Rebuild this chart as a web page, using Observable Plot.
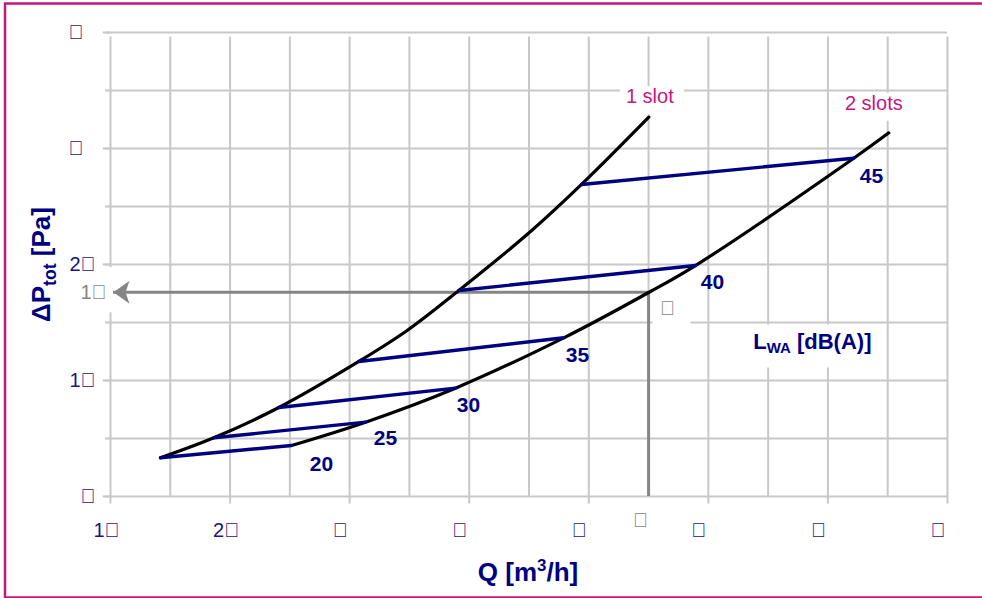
<!DOCTYPE html>
<html>
<head>
<meta charset="utf-8">
<script src="https://cdn.jsdelivr.net/npm/d3@7"></script>
<script src="https://cdn.jsdelivr.net/npm/@observablehq/plot@0.6"></script>
<style>
  html, body { margin: 0; padding: 0; background: #fff; }
  #chart svg { display: block; }
</style>
</head>
<body>
<div id="chart"></div>
<script>
// ---- axis ticks / grid ----
const qGrid = [100, 150, 200, 250, 300, 350, 400, 450, 500, 550, 600, 650, 700, 750, 800];
const pGrid = [0, 5, 10, 15, 20, 25, 30, 35, 40];
const qTicks = [100, 200, 300, 400, 500, 600, 700, 800];
const qTickLabels = ["1\uE000", "2\uE000", "\uE000", "\uE000", "\uE000", "\uE000", "\uE000", "\uE000"];
const pTicks = [0, 10, 20, 30, 40];
const pTickLabels = ["\uE000", "1\uE000", "2\uE000", "\uE000", "\uE000"];

// ---- curves ----
const seriesNames = ["1 slot", "2 slots"];
const oneSlotQ = [141.8, 186.4, 240.8, 307.7, 348.1, 391.3, 451.3, 493.9, 550.2];
const oneSlotP = [3.34, 5.06, 7.67, 11.64, 14.31, 17.76, 22.84, 26.90, 32.70];
const twoSlotQ = [251.4, 313.3, 388.5, 479.1, 550.8, 589.2, 721.6, 750.9];
const twoSlotP = [4.40, 6.41, 9.34, 13.68, 17.63, 19.91, 29.16, 31.35];

// ---- sound power level lines L_WA ----
const lwaLevels = [20, 25, 30, 35, 40, 45];
const lwaQ1 = [141.8, 186.4, 240.8, 307.7, 391.3, 493.9];
const lwaP1 = [3.34, 5.06, 7.67, 11.64, 17.76, 26.90];
const lwaQ2 = [251.4, 313.3, 388.5, 479.1, 589.2, 721.6];
const lwaP2 = [4.40, 6.41, 9.34, 13.68, 19.91, 29.16];
const lwaLabelQ = [276.5, 330.0, 399.4, 490.6, 603.5, 736.4];
const lwaLabelP = [2.76, 5.00, 7.84, 12.16, 18.45, 27.59];

// ---- read-off example (operating point) ----
const opQ = 550;
const opP = 17.6;
const opQLabel = "\uE000";
const opPLabel = "1\uE000";
const opLabel = "\uE000";

// ---- titles ----
const xTitle = ["Q [m", "3", "/h]"];
const yTitle = ["\u0394P", "tot", " [Pa]"];
const lwaTitle = ["L", "WA", " [dB(A)]"];
const lwaTitleQ = 687.0;
const lwaTitleP = 13.28;

// ---- build tables ----
const curves = [
  ...oneSlotQ.map((q, i) => ({series: seriesNames[0], q, p: oneSlotP[i]})),
  ...twoSlotQ.map((q, i) => ({series: seriesNames[1], q, p: twoSlotP[i]}))
];
const lwa = lwaLevels.map((level, i) => ({
  level, q1: lwaQ1[i], p1: lwaP1[i], q2: lwaQ2[i], p2: lwaP2[i], lq: lwaLabelQ[i], lp: lwaLabelP[i]
}));
const xTickData = qTicks.map((v, i) => ({v, label: qTickLabels[i]}));
const yTickData = pTicks.map((v, i) => ({v, label: pTickLabels[i], i}));
const seriesEnds = seriesNames.map(s => {
  const pts = curves.filter(d => d.series === s);
  return pts[pts.length - 1];
});

// ---- styles ----
const navy = "#000080";
const tickNavy = "#16167e";
const grey = "#858585";
const gridGrey = "#c8c8c8";
const magenta = "#c4177f";
const font = "'Liberation Sans', Arial, Helvetica, sans-serif";

const box = (x0, y0, x1, y1) => ({draw(ctx) { ctx.rect(x0, y0, x1 - x0, y1 - y0); }});
const stealthLeft = {draw(ctx) {
  ctx.moveTo(0, 0); ctx.lineTo(16, -11.5); ctx.lineTo(12, 0); ctx.lineTo(16, 11.5); ctx.closePath();
}};

const chart = Plot.plot({
  width: 982,
  height: 598,
  marginLeft: 110,
  marginRight: 35,
  marginTop: 32,
  marginBottom: 102,
  x: {domain: [100, 800], axis: null},
  y: {domain: [0, 40], axis: null},
  style: {fontFamily: font, background: "#fff", overflow: "visible"},
  marks: [
    // outer magenta frame
    Plot.frame({stroke: magenta, strokeWidth: 2.5, fill: "none",
      insetLeft: -105.5, insetTop: -29, insetBottom: -101, insetRight: -45}),
    // grid + ticks
    Plot.ruleX(qGrid, {y1: 0, y2: 40, stroke: gridGrey, strokeWidth: 2, insetBottom: -4.5}),
    Plot.ruleX(qTicks, {y1: 0, y2: 0, stroke: gridGrey, strokeWidth: 2, insetBottom: -7.5}),
    Plot.ruleY(pGrid, {x1: 100, x2: 800, stroke: gridGrey, strokeWidth: 2, insetLeft: -5}),
    Plot.ruleY(pTicks, {x1: 100, x2: 100, stroke: gridGrey, strokeWidth: 2, insetLeft: -7.3}),
    // white label backgrounds
    Plot.dot(seriesEnds.slice(0, 1), {x: "q", y: "p", symbol: box(-29, -31, 35, -3), fill: "#fff", stroke: "none"}),
    Plot.dot(seriesEnds.slice(1, 2), {x: "q", y: "p", symbol: box(-48, -40, 17, -12), fill: "#fff", stroke: "none"}),
    Plot.dot([opP], {x: 100, y: d => d, symbol: box(-40, -25, 3, 20), fill: "#fff", stroke: "none"}),
    Plot.dot([opQ], {x: d => d, y: opP, symbol: box(4, 3, 42, 34), fill: "#fff", stroke: "none"}),
    Plot.dot([lwaTitleQ], {x: d => d, y: lwaTitleP, symbol: box(-77, -18, 70, 25), fill: "#fff", stroke: "none"}),
    // read-off lines
    Plot.ruleY([opP], {x1: 102.5, x2: opQ, stroke: grey, strokeWidth: 3}),
    Plot.ruleX([opQ], {y1: 0, y2: opP, stroke: grey, strokeWidth: 3}),
    Plot.dot([opP], {x: 100, y: d => d, dx: 3, symbol: stealthLeft, fill: grey, stroke: "none"}),
    // curves
    Plot.line(curves, {x: "q", y: "p", z: "series", curve: "catmull-rom", stroke: "#000", strokeWidth: 3.2}),
    // L_WA lines
    Plot.link(lwa, {x1: "q1", y1: "p1", x2: "q2", y2: "p2", stroke: navy, strokeWidth: 3.4, strokeLinecap: "round"}),
    // L_WA values
    Plot.text(lwa, {x: "lq", y: "lp", text: d => String(d.level), fill: navy, fontSize: 21, fontWeight: "bold"}),
    // series labels
    Plot.text(seriesEnds.slice(0, 1), {x: "q", y: "p", text: "series", dy: -21, dx: 1, fill: magenta, fontSize: 20}),
    Plot.text(seriesEnds.slice(1, 2), {x: "q", y: "p", text: "series", dy: -29, dx: -15, fill: magenta, fontSize: 20}),
    // tick labels
    Plot.text(xTickData, {x: "v", y: 0, text: "label", dy: 34, dx: -17, textAnchor: "start", fill: tickNavy, fontSize: 20}),
    Plot.text(yTickData.filter(d => d.i < 3), {x: 100, y: "v", text: "label", dx: -15, textAnchor: "end", fill: tickNavy, fontSize: 20}),
    Plot.text(yTickData.filter(d => d.i >= 3), {x: 100, y: "v", text: "label", dx: -27, textAnchor: "end", fill: tickNavy, fontSize: 20}),
    // read-off labels
    Plot.text([opPLabel], {x: 100, y: opP, text: d => d, dx: -17, fill: grey, fontSize: 20}),
    Plot.text([opQLabel], {x: opQ, y: 0, text: d => d, dx: -8, dy: 24, fill: grey, fontSize: 20}),
    Plot.text([opLabel], {x: opQ, y: opP, text: d => d, dx: 19, dy: 16, fill: grey, fontSize: 20}),
    // titles
    Plot.text([yTitle.join("")], {frameAnchor: "left", textAnchor: "middle", lineAnchor: "middle", dx: -68.5, dy: 0, rotate: -90, text: d => d, fill: navy, fontSize: 26, fontWeight: "bold"}),
    Plot.text([xTitle.join("")], {frameAnchor: "bottom", textAnchor: "middle", lineAnchor: "middle", dy: 76, dx: -1, text: d => d, fill: navy, fontSize: 26, fontWeight: "bold"}),
    Plot.text([lwaTitle.join("")], {x: lwaTitleQ, y: lwaTitleP, text: d => d, fill: navy, fontSize: 22, fontWeight: "bold"})
  ]
});

// sub/superscripts as real tspans
function shiftPart(svg, parts, shift, size) {
  const full = parts.join("");
  svg.querySelectorAll("text").forEach(t => {
    if (t.textContent !== full) return;
    while (t.firstChild) t.removeChild(t.firstChild);
    const ns = "http://www.w3.org/2000/svg";
    const a = document.createElementNS(ns, "tspan"); a.textContent = parts[0];
    const b = document.createElementNS(ns, "tspan"); b.textContent = parts[1];
    b.setAttribute("dy", shift); b.setAttribute("font-size", size);
    const c = document.createElementNS(ns, "tspan"); c.textContent = parts[2];
    c.setAttribute("dy", -shift);
    t.append(a, b, c);
  });
}
shiftPart(chart, yTitle, 6, "68%");
shiftPart(chart, lwaTitle, 4, "68%");
shiftPart(chart, xTitle, -10, "65%");

document.getElementById("chart").append(chart);
</script>
</body>
</html>
